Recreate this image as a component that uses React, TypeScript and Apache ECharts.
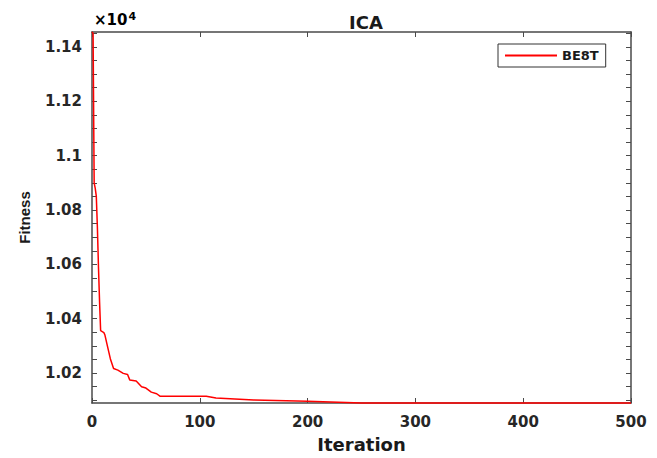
import React, { useEffect, useRef } from "react";
import * as echarts from "echarts";

const iterations = [0, 1, 2, 3, 4, 5, 6, 7, 8, 11, 12, 14, 17, 20, 24, 29, 33, 35, 41, 46, 50, 55, 60, 63, 106, 115, 150, 200, 250, 500];
const bestFitness = [11455, 11450, 10900, 10880, 10850, 10736, 10591, 10464, 10356, 10349, 10340, 10305, 10253, 10217, 10211, 10199, 10195, 10175, 10171, 10150, 10145, 10130, 10124, 10115, 10115, 10108, 10101, 10096, 10090, 10090];
const yLabelValues = [10200, 10400, 10600, 10800, 11000, 11200, 11400];
const yTickValues = [10100, 10150, 10200, 10250, 10300, 10350, 10400, 10450, 10500, 10550, 10600, 10650, 10700, 10750, 10800, 10850, 10900, 10950, 11000, 11050, 11100, 11150, 11200, 11250, 11300, 11350, 11400, 11450];
const seriesName = "BE8T";
const titleText = "ICA";
const xName = "Iteration";
const yName = "Fitness";

export default function App() {
  const ref = useRef<HTMLDivElement>(null);
  useEffect(() => {
    if (!ref.current) return;
    const chart = echarts.init(ref.current, null, { renderer: "svg" });
    const axisColor = "#4a4a4a";
    const labelFont = {
      fontFamily: "DejaVu Sans",
      fontWeight: "bold" as const,
      fontSize: 15,
      color: "#262626",
    };
    const data = iterations.map((it, i) => [it, bestFitness[i]]);
    chart.setOption({
      animation: false,
      backgroundColor: "#ffffff",
      title: {
        text: titleText,
        left: 361,
        top: 8,
        textAlign: "center",
        textStyle: { fontFamily: "DejaVu Sans", fontWeight: "bold", fontSize: 18, color: "#1a1a1a" },
      },
      grid: { left: 92, right: 26, top: 32, bottom: 50, containLabel: false },
      legend: {
        data: [seriesName],
        left: 498,
        top: 44,
        icon: "rect",
        itemWidth: 52,
        itemHeight: 2,
        itemGap: 5,
        padding: [5, 7, 5, 7],
        borderColor: "#333333",
        borderWidth: 1,
        backgroundColor: "#ffffff",
        textStyle: { fontFamily: "DejaVu Sans", fontWeight: "bold", fontSize: 13, color: "#1a1a1a", padding: [0, 0, 0, 0] },
      },
      xAxis: [
        {
          type: "value",
          min: 0,
          max: 500,
          interval: 100,
          name: xName,
          nameLocation: "middle",
          nameGap: 32,
          nameTextStyle: { fontFamily: "DejaVu Sans", fontWeight: "bold", fontSize: 18, color: "#1a1a1a" },
          axisLine: { onZero: false, lineStyle: { color: axisColor, width: 1.5 } },
          axisTick: { inside: true, length: 5, lineStyle: { color: axisColor } },
          axisLabel: { ...labelFont, margin: 11 },
          splitLine: { show: false },
        },
        {
          type: "value",
          position: "top",
          min: 0,
          max: 500,
          interval: 100,
          axisLine: { onZero: false, lineStyle: { color: axisColor, width: 1.5 } },
          axisTick: { inside: true, length: 5, lineStyle: { color: axisColor } },
          axisLabel: { show: false },
          splitLine: { show: false },
        },
      ],
      yAxis: [
        {
          type: "value",
          min: 10090,
          max: 11455,
          name: yName,
          nameLocation: "middle",
          nameGap: 60,
          nameRotate: 90,
          nameTextStyle: { fontFamily: "Liberation Sans", fontWeight: "bold", fontSize: 15, color: "#1a1a1a" },
          axisLine: { onZero: false, lineStyle: { color: axisColor, width: 1.5 } },
          axisTick: { inside: true, length: 5, customValues: yTickValues, lineStyle: { color: axisColor } },
          axisLabel: {
            ...labelFont,
            margin: 10,
            customValues: yLabelValues,
            formatter: (v: number) => String(+(v / 10000).toFixed(2)),
          },
          splitLine: { show: false },
        },
        {
          type: "value",
          position: "right",
          min: 10090,
          max: 11455,
          axisLine: { onZero: false, lineStyle: { color: axisColor, width: 1.5 } },
          axisTick: { inside: true, length: 5, customValues: yTickValues, lineStyle: { color: axisColor } },
          axisLabel: { show: false },
          splitLine: { show: false },
        },
      ],
      graphic: [
        {
          type: "text",
          left: 94,
          top: 11,
          style: {
            text: "{a|×10}{b|4}",
            rich: {
              a: { fontFamily: "DejaVu Sans", fontWeight: "bold", fontSize: 15, color: "#333333" },
              b: { fontFamily: "DejaVu Sans", fontWeight: "bold", fontSize: 11, color: "#333333", verticalAlign: "top", padding: [0, 0, 7, 1] },
            },
          },
        },
      ],
      series: [
        {
          name: seriesName,
          type: "line",
          data,
          symbol: "none",
          showSymbol: false,
          lineStyle: { color: "#ff0000", width: 1.5 },
          itemStyle: { color: "#ff0000" },
          xAxisIndex: 0,
          yAxisIndex: 0,
          clip: false,
        },
      ],
    });
    return () => chart.dispose();
  }, []);
  return <div ref={ref} style={{ position: "fixed", left: 0, top: 0, width: 657, height: 458 }} />;
}
